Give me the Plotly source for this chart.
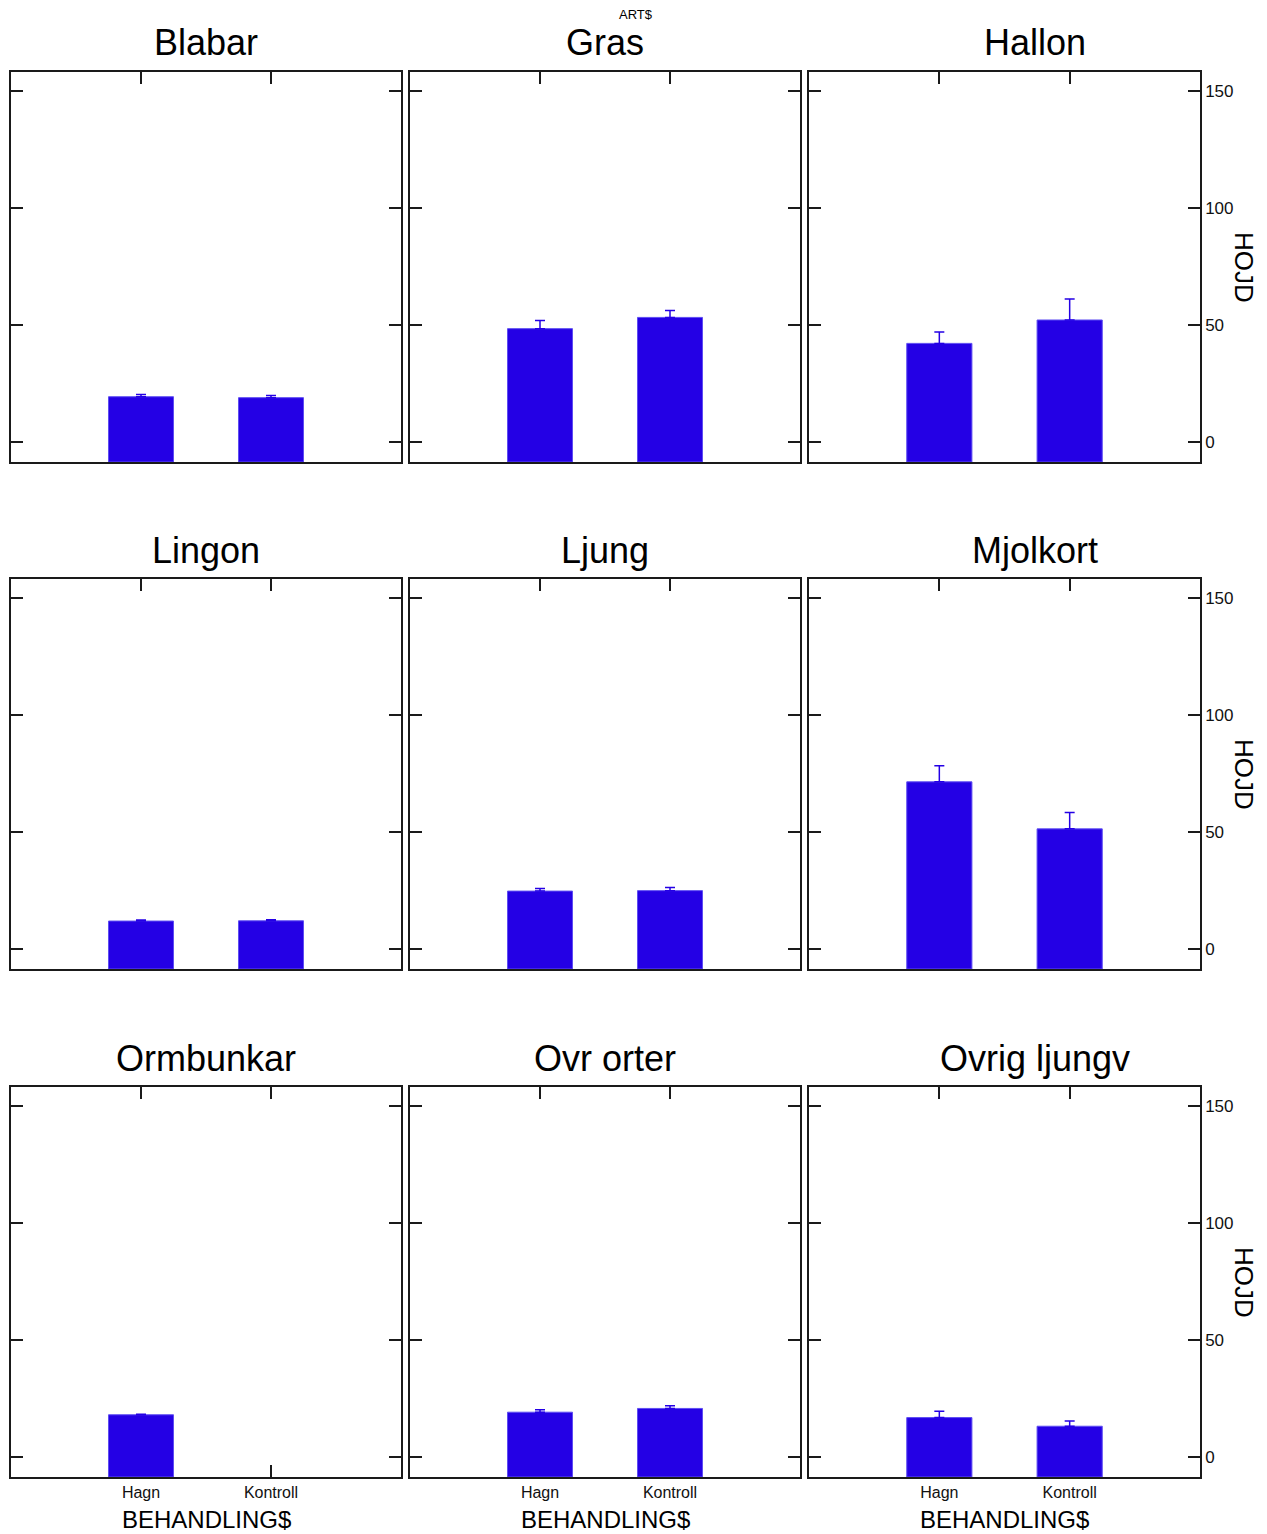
import plotly.graph_objects as go

# Mean height (HOJD) per species (ARTS) and treatment (BEHANDLINGS), with standard errors
SPECIES = ["Blabar", "Gras", "Hallon", "Lingon", "Ljung", "Mjolkort",
           "Ormbunkar", "Ovr orter", "Ovrig ljungv"]
TREATMENTS = ["Hagn", "Kontroll"]
HAGN_MEAN = [19.5, 48.6, 42.3, 12.1, 24.9, 71.6, 18.2, 19.3, 17.0]
KONTROLL_MEAN = [19.1, 53.4, 52.3, 12.2, 25.1, 51.5, None, 20.9, 13.3]
HAGN_SE = [0.9, 3.5, 4.9, 0.4, 1.1, 6.9, 0.2, 1.0, 2.7]
KONTROLL_SE = [0.9, 3.0, 9.0, 0.4, 1.3, 7.0, None, 1.2, 2.2]
Y_TICKS = [0, 50, 100, 150]
Y_RANGE = [-8.4, 158.3]

W, H = 1267, 1534
FONT = "Liberation Sans, Arial, Helvetica, sans-serif"
BAR_COLOR = "#2400E5"
EDGE_COLOR = "#5E4DF2"
AXIS_COLOR = "#1a1a1a"

# panel boxes in pixels: (left, right) per column, (top, bottom) per row
COLS = [(11, 401), (410, 800), (809, 1200)]
ROWS = [(72, 462), (579, 969), (1087, 1477)]


def px_x(x):
    return x / W


def px_y(y):
    return 1 - y / H


fig = go.Figure()
layout = {}
annotations = []

for k, name in enumerate(SPECIES):
    r, c = divmod(k, 3)
    sfx = "" if k == 0 else str(k + 1)
    means = [HAGN_MEAN[k], KONTROLL_MEAN[k]]
    ses = [HAGN_SE[k], KONTROLL_SE[k]]
    # bars rise from the bottom of the frame up to each mean
    heights = [None if m is None else m - Y_RANGE[0] for m in means]
    fig.add_trace(go.Bar(
        x=TREATMENTS, y=heights, base=Y_RANGE[0], width=0.5,
        marker=dict(color=BAR_COLOR, line=dict(color=EDGE_COLOR, width=1)),
        error_y=dict(type="data", symmetric=False,
                     array=[0 if s is None else s for s in ses],
                     arrayminus=[0, 0],
                     color=BAR_COLOR, thickness=1.5, width=5),
        xaxis="x" + sfx, yaxis="y" + sfx, showlegend=False,
    ))

    x0, x1 = COLS[c]
    y0, y1 = ROWS[r]
    layout["xaxis" + sfx] = dict(
        domain=[px_x(x0), px_x(x1)], anchor="y" + sfx,
        type="category", categoryorder="array", categoryarray=TREATMENTS,
        range=[-1, 2], showgrid=False, zeroline=False, layer="below traces",
        showline=True, linecolor=AXIS_COLOR, linewidth=1.5, mirror="ticks",
        ticks="inside", ticklen=12, tickwidth=1.5, tickcolor=AXIS_COLOR,
        showticklabels=(r == 2),
        tickfont=dict(family=FONT, size=16, color="#111"),
    )
    layout["yaxis" + sfx] = dict(
        domain=[px_y(y1), px_y(y0)], anchor="x" + sfx,
        range=Y_RANGE, tickvals=Y_TICKS, showgrid=False, zeroline=False,
        showline=True, linecolor=AXIS_COLOR, linewidth=1.5, mirror="ticks",
        ticks="inside", ticklen=12, tickwidth=1.5, tickcolor=AXIS_COLOR,
        side="right", showticklabels=(c == 2),
        tickfont=dict(family=FONT, size=17, color="#111"),
    )

    # panel title
    title_x = (x0 + x1) / 2 if c < 2 else 1035
    annotations.append(dict(
        text=name, x=px_x(title_x), y=px_y(y0 - 29), xref="paper", yref="paper",
        xanchor="center", yanchor="middle", showarrow=False,
        font=dict(family=FONT, size=36, color="#000"),
    ))

# shared axis titles
for r, (y0, y1) in enumerate(ROWS):
    annotations.append(dict(
        text="HOJD", x=px_x(1244), y=px_y((y0 + y1) / 2), xref="paper", yref="paper",
        xanchor="center", yanchor="middle", textangle=90, showarrow=False,
        font=dict(family=FONT, size=26, color="#000"),
    ))
for c, (x0, x1) in enumerate(COLS):
    annotations.append(dict(
        text="BEHANDLING$", x=px_x((x0 + x1) / 2), y=px_y(1519), xref="paper", yref="paper",
        xanchor="center", yanchor="middle", showarrow=False,
        font=dict(family=FONT, size=24, color="#000"),
    ))
annotations.append(dict(
    text="ART$", x=px_x(636), y=px_y(15), xref="paper", yref="paper",
    xanchor="center", yanchor="middle", showarrow=False,
    font=dict(family=FONT, size=13, color="#000"),
))

fig.update_layout(
    **layout,
    annotations=annotations,
    width=W, height=H,
    margin=dict(l=0, r=0, t=0, b=0),
    paper_bgcolor="white", plot_bgcolor="white",
    bargap=0.5,
)

fig.write_html("out.html")
